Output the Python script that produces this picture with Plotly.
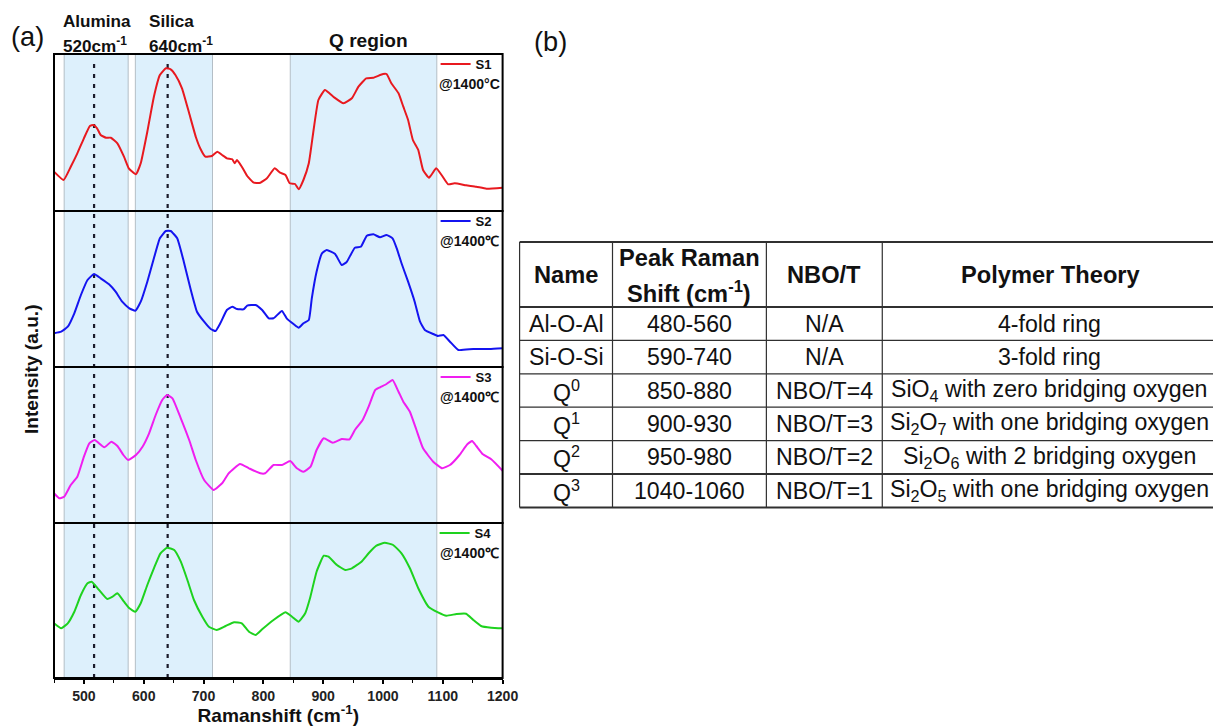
import plotly.graph_objects as go

# ---------------- data ----------------
s1_x = [450, 466, 478, 489, 500, 510, 516, 522, 528, 537, 545, 556, 567, 575, 587, 595, 606, 617, 627, 637,
        645, 653, 664, 676, 687, 695, 703, 714, 723, 731, 739, 748, 752, 756, 764, 773, 784, 795, 806, 819,
        828, 837, 844, 853, 859, 867, 876, 884, 892, 903, 917, 934, 948, 959, 972, 984, 1000, 1006, 1014,
        1026, 1034, 1042, 1050, 1059, 1067, 1077, 1089, 1098, 1109, 1120, 1139, 1156, 1173, 1200]
s1_y = [39.3, 31, 44.3, 57.7, 72.7, 85, 86, 82.7, 76, 73.3, 73.3, 67.7, 54.3, 42.7, 36.7, 47.7, 79.3, 114.3,
        136, 142.7, 141.7, 136, 122.7, 97.7, 74.3, 62, 54.3, 55, 59.3, 56, 52.7, 51.7, 47.7, 51, 44.3, 35,
        28.3, 28.3, 32.7, 42.7, 38.3, 36, 27.7, 27, 21.7, 31, 47.7, 81, 111, 121, 114.3, 107.7, 112.7,
        124.3, 132.7, 133.3, 137, 137, 127.7, 117.7, 104.3, 91, 71, 61, 41, 33.3, 42.7, 36, 26.7, 27.7,
        25.7, 24.3, 22.3, 23.3]

s2_x = [450, 462, 473, 484, 495, 506, 517, 528, 542, 553, 564, 576, 586, 595, 606, 617, 627, 637, 645, 656,
        667, 678, 689, 701, 712, 720, 728, 739, 748, 756, 767, 773, 787, 798, 809, 817, 831, 839, 851, 859,
        867, 876, 881, 889, 898, 906, 920, 931, 939, 953, 963, 973, 984, 995, 1006, 1016, 1023, 1031, 1042,
        1053, 1062, 1070, 1084, 1092, 1101, 1112, 1126, 1151, 1178, 1200]
s2_y = [33.7, 35.3, 40.3, 53.7, 72, 87, 93, 88.7, 82.7, 75.3, 65.3, 58.7, 56.3, 65.3, 85.3, 108.7, 128.7,
        136, 136, 128.7, 105.3, 78.7, 55.3, 45.3, 38, 36, 43.7, 57, 60.3, 58, 57.7, 61.3, 62, 57, 48.7,
        48.7, 56, 48.7, 42.7, 39.3, 43.7, 47, 68.7, 95.3, 113.7, 117, 113, 102, 104.7, 119.3, 120.3, 131.3,
        132.7, 129.7, 132, 128.7, 118.7, 103.7, 85.3, 65.3, 45.3, 37, 33, 31, 32, 25.3, 17, 18, 18, 18.7]

s3_x = [450, 459, 467, 478, 489, 500, 509, 518, 534, 546, 556, 566, 574, 587, 598, 609, 620, 631, 639, 648,
        662, 676, 687, 701, 717, 731, 742, 761, 776, 795, 803, 817, 831, 845, 856, 867, 879, 889, 901, 916,
        931, 944, 953, 966, 976, 987, 995, 1006, 1016, 1026, 1034, 1045, 1056, 1067, 1084, 1099, 1112,
        1128, 1141, 1149, 1156, 1167, 1181, 1200]
s3_y = [29.7, 24.7, 26.3, 38, 46.3, 66.3, 79.7, 83, 75.7, 81.3, 77, 68, 63, 68, 76.3, 89.7, 108, 123, 128,
        124.7, 104.7, 83, 63, 43, 33, 39.7, 49.7, 59, 54.7, 49.7, 49.7, 58, 58, 62, 54.7, 51.3, 56.3, 73,
        84.7, 80.3, 84, 83.7, 93, 103, 116.3, 133, 135.7, 139, 143, 131.3, 121.3, 111.3, 93, 74.7, 61.3,
        54.7, 58, 68, 78.7, 82, 77, 68.7, 63.7, 52.3]

s4_x = [450, 462, 473, 484, 495, 506, 513, 523, 539, 548, 556, 567, 576, 586, 595, 606, 617, 628, 639, 651,
        662, 673, 684, 698, 709, 722, 737, 751, 764, 776, 787, 798, 817, 837, 848, 859, 870, 878, 889, 901,
        909, 923, 937, 948, 964, 976, 989, 1003, 1017, 1031, 1045, 1059, 1076, 1092, 1106, 1123, 1139,
        1151, 1164, 1181, 1200]
s4_y = [54.7, 49.7, 54.7, 66.3, 83, 94.7, 96.3, 89.7, 79, 81.3, 84.7, 76.3, 69.7, 66.3, 74.7, 93, 109.7,
        124.7, 130.3, 128, 116.3, 98, 78, 61.3, 51.3, 48, 52, 55.7, 54.7, 46.3, 43, 48.7, 58, 65.7, 61.3,
        56.3, 64.7, 79.7, 106.3, 122.3, 121.3, 113, 108, 109.7, 116.3, 124.7, 132.3, 135.3, 133, 124.7,
        109.7, 89.7, 71.3, 65.7, 62.3, 64, 64.3, 58, 52, 50.3, 49.7]

series_names = ["S1", "S2", "S3", "S4"]
series_colors = ["#e8191f", "#1414f0", "#f01ef0", "#1ed21e"]
series_temps = ["@1400°C", "@1400℃", "@1400℃", "@1400℃"]

band_ranges = [(467, 574), (586, 715), (845, 1090)]
peak_lines = [517, 640]
x_ticks = [500, 600, 700, 800, 900, 1000, 1100, 1200]

table_header = ["Name", "Peak Raman<br>Shift (cm<sup>-1</sup>)", "NBO/T", "Polymer Theory"]
table_name = ["Al-O-Al", "Si-O-Si", "Q<sup>0</sup>", "Q<sup>1</sup>", "Q<sup>2</sup>", "Q<sup>3</sup>"]
table_shift = ["480-560", "590-740", "850-880", "900-930", "950-980", "1040-1060"]
table_nbo = ["N/A", "N/A", "NBO/T=4", "NBO/T=3", "NBO/T=2", "NBO/T=1"]
table_theory = ["4-fold ring", "3-fold ring",
                "SiO<sub>4</sub> with zero bridging oxygen",
                "Si<sub>2</sub>O<sub>7</sub> with one bridging oxygen",
                "Si<sub>2</sub>O<sub>6</sub> with 2 bridging oxygen",
                "Si<sub>2</sub>O<sub>5</sub> with one bridging oxygen"]

# ---------------- layout helpers ----------------
# positions below are given in target-picture pixels (R); KX is the observed horizontal page->picture scale
KX = 0.987
W = int(round(1213 / KX))
H = 726


def fx(r):  # picture px -> figure px (horizontal)
    return r / KX


def fs(s):
    return s / KX ** 0.5


ML, MT = fx(53), 54
MB = H - 678
MR = 0
PW, PH = W - ML - MR, H - MT - MB


def px_x(r):
    return (fx(r) - ML) / PW


def px_y(r):
    return (H - MB - r) / PH


FONT = "Arial, 'Liberation Sans', sans-serif"
panel_tops = [54, 211, 367, 523]
panel_bots = [211, 367, 523, 678]
plot_right = 502

fig = go.Figure()
all_x = [s1_x, s2_x, s3_x, s4_x]
all_y = [s1_y, s2_y, s3_y, s4_y]
yax_names = ["y", "y2", "y3", "y4"]

shapes = []
annotations = []
layout_extra = {}

for i in range(4):
    leg = "legend" if i == 0 else f"legend{i + 1}"
    fig.add_trace(go.Scatter(
        x=all_x[i], y=all_y[i], mode="lines", name=f"<b>{series_names[i]}</b>",
        line=dict(color=series_colors[i], width=2, shape="spline", smoothing=0.4),
        xaxis="x", yaxis=yax_names[i], legend=leg, showlegend=True))
    ykey = "yaxis" if i == 0 else f"yaxis{i + 1}"
    layout_extra[ykey] = dict(domain=[px_y(panel_bots[i]), px_y(panel_tops[i])],
                              range=[0, panel_bots[i] - panel_tops[i]], visible=False,
                              anchor="x", fixedrange=True)
    layout_extra[leg] = dict(x=px_x(plot_right - 6), xanchor="right", y=px_y(panel_tops[i] - 5), yanchor="top",
                             bgcolor="rgba(0,0,0,0)", borderwidth=0,
                             font=dict(family=FONT, size=fs(13), color="#111"),
                             itemwidth=30, tracegroupgap=0)
    shapes.append(dict(type="rect", xref="x domain", yref=f"{yax_names[i]} domain",
                       x0=0, x1=1, y0=0, y1=1, line=dict(color="black", width=2), layer="above"))
    annotations.append(dict(text=f"<b>{series_temps[i]}</b>", x=px_x(plot_right - 1), xanchor="right",
                            y=px_y(panel_tops[i] + 30), yanchor="middle", xref="paper", yref="paper",
                            showarrow=False, font=dict(family=FONT, size=fs(14), color="#111")))

for (b0, b1) in band_ranges:
    shapes.append(dict(type="rect", xref="x", yref="paper", x0=b0, x1=b1, y0=0, y1=1,
                       fillcolor="#ddf0fc", line=dict(color="#b4bec6", width=1), layer="below"))
for xv in peak_lines:
    shapes.append(dict(type="line", xref="x", yref="paper", x0=xv, x1=xv, y0=0, y1=0.985,
                       line=dict(color="#1a1a2a", width=2.2, dash="4px,6px"), layer="below"))

# top labels (picture pixel positions)
top_labels = [
    ("(a)", 26, 36, "center", 27, False),
    ("Alumina", 60, 22, "left", 17, True),
    ("520cm<sup>-1</sup>", 60, 45, "left", 17, True),
    ("Silica", 146, 22, "left", 17, True),
    ("640cm<sup>-1</sup>", 146, 45, "left", 17, True),
    ("Q region", 368, 40, "center", 19, True),
    ("(b)", 550, 41, "center", 27, False),
]
for txt, xp, yp, anc, fsz, bold in top_labels:
    annotations.append(dict(text=f"<b>{txt}</b>" if bold else txt, x=px_x(xp), y=px_y(yp),
                            xanchor=anc, yanchor="middle", xref="paper", yref="paper",
                            showarrow=False, font=dict(family=FONT, size=fs(fsz), color="#111")))

annotations.append(dict(text="<b>Intensity (a.u.)</b>", x=px_x(30), y=px_y(369), xref="paper", yref="paper",
                        textangle=-90, showarrow=False, xanchor="center", yanchor="middle",
                        font=dict(family=FONT, size=fs(19), color="#111")))

# ---------------- table (on its own hidden axes, 1 unit = 1 picture px) ----------------
col_widths = [93, 154, 116, 336]
header_h, row_h = 65, 33.4
col_edges = [0]
for w in col_widths:
    col_edges.append(col_edges[-1] + w)
row_edges = [0, header_h] + [header_h + row_h * (k + 1) for k in range(len(table_name))]
tab_left, tab_top = 519, 242
pad = 5
right_r = W * KX
layout_extra["xaxis5"] = dict(domain=[px_x(tab_left - pad), 1], range=[-pad, right_r - tab_left],
                              visible=False, anchor="y5", fixedrange=True)
layout_extra["yaxis5"] = dict(domain=[px_y(tab_top + row_edges[-1] + pad), px_y(tab_top - pad)],
                              range=[row_edges[-1] + pad, -pad], visible=False, anchor="x5", fixedrange=True)

thick_rows = {0, 1, len(row_edges) - 2, len(row_edges) - 1}
for k, ry in enumerate(row_edges):
    shapes.append(dict(type="line", xref="x5", yref="y5", x0=col_edges[0], x1=col_edges[-1], y0=ry, y1=ry,
                       line=dict(color="#303030", width=2 if k in thick_rows else 1.2)))
for cx in col_edges:
    shapes.append(dict(type="line", xref="x5", yref="y5", x0=cx, x1=cx, y0=row_edges[0], y1=row_edges[-1],
                       line=dict(color="#303030", width=1.2)))

centers = [(col_edges[c] + col_edges[c + 1]) / 2 for c in range(len(col_widths))]
centers[3] = col_edges[3] + 167
for c, htxt in enumerate(table_header):
    lines = htxt.split("<br>")
    n = len(lines)
    for li, ln in enumerate(lines):
        yc = header_h / 2 + (li - (n - 1) / 2) * 34
        annotations.append(dict(text=f"<b>{ln}</b>", x=centers[c] + (2 if c == 3 else 0), y=yc,
                                xref="x5", yref="y5", showarrow=False, xanchor="center", yanchor="middle",
                                font=dict(family=FONT, size=fs(23.5), color="#111")))
columns = [table_name, table_shift, table_nbo, table_theory]
for c, col in enumerate(columns):
    for r, txt in enumerate(col):
        yc = (row_edges[r + 1] + row_edges[r + 2]) / 2
        annotations.append(dict(text=txt, x=centers[c], y=yc, xref="x5", yref="y5",
                                showarrow=False, xanchor="center", yanchor="middle",
                                font=dict(family=FONT, size=fs(23), color="#111")))

fig.update_layout(
    width=W, height=H, autosize=False,
    margin=dict(l=ML, r=MR, t=MT, b=MB, pad=0),
    paper_bgcolor="white", plot_bgcolor="rgba(0,0,0,0)",
    font=dict(family=FONT, color="#111"),
    xaxis=dict(domain=[0, px_x(plot_right)], range=[450, 1200], anchor="y4",
               tickvals=x_ticks, ticktext=[f"<b>{t}</b>" for t in x_ticks],
               ticks="outside", ticklen=4, tickwidth=1.5, tickcolor="black",
               minor=dict(dtick=50, tick0=450, ticks="outside", ticklen=3, tickwidth=1.2, tickcolor="black"),
               showline=True, linecolor="black", linewidth=2, showgrid=False, zeroline=False,
               tickfont=dict(family=FONT, size=fs(14), color="#222"),
               title=dict(text="<b>Ramanshift (cm<sup>-1</sup>)</b>", standoff=5,
                          font=dict(family=FONT, size=fs(19), color="#111")),
               fixedrange=True),
    shapes=shapes,
    annotations=annotations,
    **layout_extra,
)

fig.write_html("out.html", config={"displayModeBar": False, "responsive": False},
               post_script="document.body.style.margin='0';document.documentElement.style.overflow='hidden';"
                           "document.body.style.overflow='hidden';")
